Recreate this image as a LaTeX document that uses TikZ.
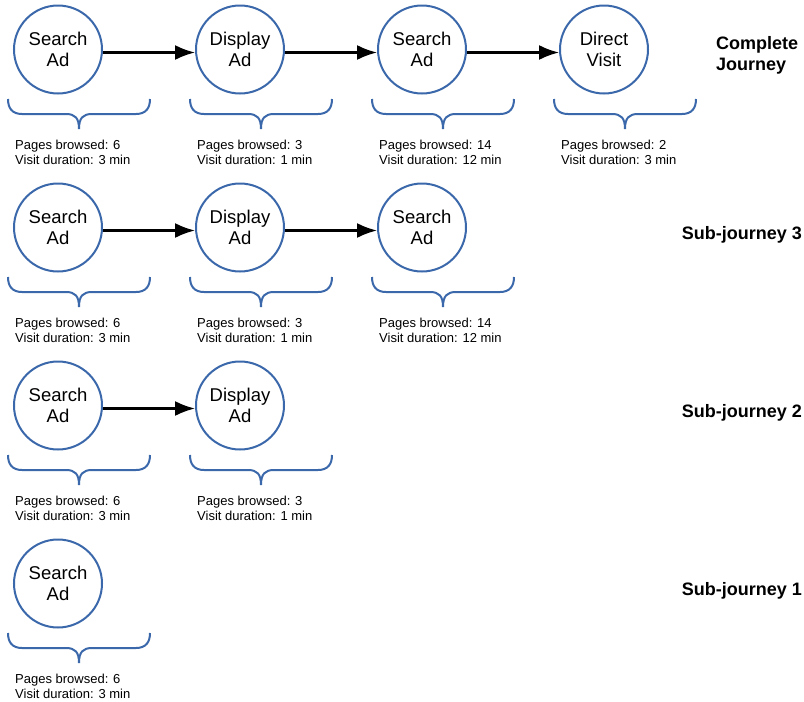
\documentclass[tikz,border=0pt]{standalone}
\usepackage{fontspec}
\setmainfont{Liberation Sans}
\usetikzlibrary{arrows.meta}
\definecolor{circblue}{RGB}{59,104,170}
\begin{document}
\begin{tikzpicture}[x=1pt,y=-1pt,
  touch/.style={circle, draw=circblue, line width=2pt, minimum size=88pt, inner sep=0pt, align=center, font=\fontsize{18.5}{21}\selectfont},
  flow/.style={-{Latex[length=20pt,width=15pt]}, line width=2.2pt, black},
  stats/.style={anchor=north west, inner sep=0pt, align=left, font=\fontsize{13}{15}\selectfont},
  rowlabel/.style={anchor=base east, inner sep=0pt, font=\fontsize{18}{21}\selectfont\bfseries},
  bracestroke/.style={draw=circblue, line width=2pt},
  bracepic/.pic={\draw[bracestroke] (-50,99) .. controls (-50,108) and (-46,114) .. (-36,114) -- (8,114) .. controls (17,114) and (21,118) .. (21,129) .. controls (21,118) and (25,114) .. (34,114) -- (78,114) .. controls (88,114) and (92,108) .. (92,99);}
]
\useasboundingbox (0,0) rectangle (804,702);

% ---------- Row 1: Complete journey ----------
\node[touch] (r1a) at (58,49.5) {Search\\Ad};
\node[touch] (r1b) at (240,49.5) {Display\\Ad};
\node[touch] (r1c) at (422,49.5) {Search\\Ad};
\node[touch] (r1d) at (604,49.5) {Direct\\Visit};
\draw[flow] ([yshift=-3pt]r1a.east) -- ([yshift=-3pt]r1b.west);
\draw[flow] ([yshift=-3pt]r1b.east) -- ([yshift=-3pt]r1c.west);
\draw[flow] ([yshift=-3pt]r1c.east) -- ([yshift=-3pt]r1d.west);
\pic at (58,0) {bracepic};
\pic at (240,0) {bracepic};
\pic at (422,0) {bracepic};
\pic at (604,0) {bracepic};
\node[stats] (s1a) at (15,140) {Pages browsed: 6\\Visit duration: 3 min};
\node[stats] (s1b) at (197,140) {Pages browsed: 3\\Visit duration: 1 min};
\node[stats] (s1c) at (379,140) {Pages browsed: 14\\Visit duration: 12 min};
\node[stats] (s1d) at (561,140) {Pages browsed: 2\\Visit duration: 3 min};
\node[anchor=north west, inner sep=0pt, align=left, font=\fontsize{18}{20.5}\selectfont\bfseries] (lab1) at (716,36.5) {Complete\\Journey};

% ---------- Row 2: Sub-journey 3 ----------
\node[touch] (r2a) at (58,227.5) {Search\\Ad};
\node[touch] (r2b) at (240,227.5) {Display\\Ad};
\node[touch] (r2c) at (422,227.5) {Search\\Ad};
\draw[flow] ([yshift=-3pt]r2a.east) -- ([yshift=-3pt]r2b.west);
\draw[flow] ([yshift=-3pt]r2b.east) -- ([yshift=-3pt]r2c.west);
\pic at (58,178) {bracepic};
\pic at (240,178) {bracepic};
\pic at (422,178) {bracepic};
\node[stats] (s2a) at (15,318) {Pages browsed: 6\\Visit duration: 3 min};
\node[stats] (s2b) at (197,318) {Pages browsed: 3\\Visit duration: 1 min};
\node[stats] (s2c) at (379,318) {Pages browsed: 14\\Visit duration: 12 min};
\node[rowlabel] (lab2) at (802,239.5) {Sub-journey 3};

% ---------- Row 3: Sub-journey 2 ----------
\node[touch] (r3a) at (58,405.5) {Search\\Ad};
\node[touch] (r3b) at (240,405.5) {Display\\Ad};
\draw[flow] ([yshift=-3pt]r3a.east) -- ([yshift=-3pt]r3b.west);
\pic at (58,356) {bracepic};
\pic at (240,356) {bracepic};
\node[stats] (s3a) at (15,496) {Pages browsed: 6\\Visit duration: 3 min};
\node[stats] (s3b) at (197,496) {Pages browsed: 3\\Visit duration: 1 min};
\node[rowlabel] (lab3) at (802,417.5) {Sub-journey 2};

% ---------- Row 4: Sub-journey 1 ----------
\node[touch] (r4a) at (58,583.5) {Search\\Ad};
\pic at (58,534) {bracepic};
\node[stats] (s4a) at (15,674) {Pages browsed: 6\\Visit duration: 3 min};
\node[rowlabel] (lab4) at (802,595.5) {Sub-journey 1};
\end{tikzpicture}
\end{document}
